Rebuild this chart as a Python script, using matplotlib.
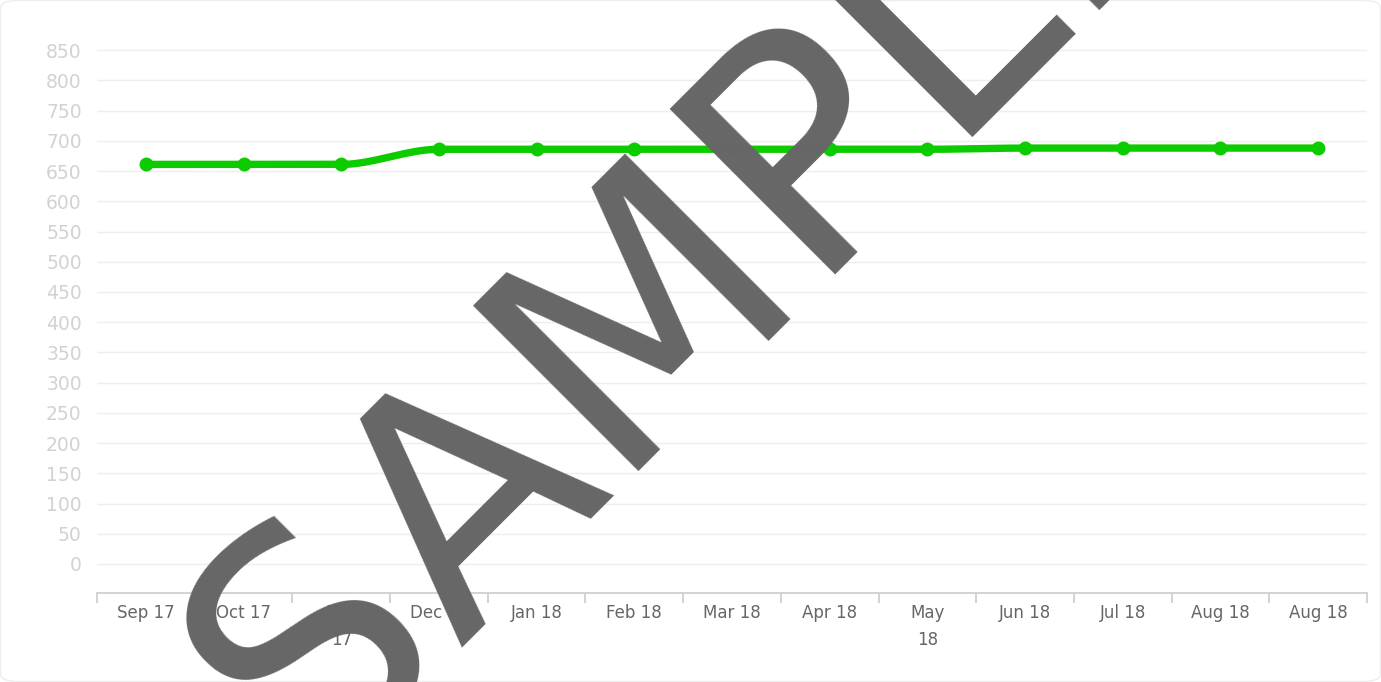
import numpy as np
import matplotlib
matplotlib.use("Agg")
import matplotlib.pyplot as plt
from matplotlib.patches import FancyBboxPatch

# month labels (two of them wrap onto a second line in the original)
months = ["Sep 17", "Oct 17", "Nov\n17", "Dec 17", "Jan 18", "Feb 18", "Mar 18",
          "Apr 18", "May\n18", "Jun 18", "Jul 18", "Aug 18", "Aug 18"]
values = [661, 661, 661, 686, 686, 686, 686, 686, 686, 688, 688, 688, 688]
yticks = list(range(0, 851, 50))


def monotone_curve(x, y, n=20):
    # Fritsch-Carlson monotone cubic, only used to draw the smooth line
    x = np.asarray(x, float)
    y = np.asarray(y, float)
    h = np.diff(x)
    d = np.diff(y) / h
    m = np.zeros_like(y)
    m[0], m[-1] = d[0], d[-1]
    for i in range(1, len(y) - 1):
        if d[i - 1] * d[i] <= 0:
            m[i] = 0
        else:
            m[i] = 2 / (1 / d[i - 1] + 1 / d[i])
    xs, ys = [], []
    for i in range(len(h)):
        t = np.linspace(0, 1, n, endpoint=False)
        h00 = 2*t**3 - 3*t**2 + 1
        h10 = t**3 - 2*t**2 + t
        h01 = -2*t**3 + 3*t**2
        h11 = t**3 - t**2
        xs.append(x[i] + t*h[i])
        ys.append(h00*y[i] + h10*h[i]*m[i] + h01*y[i+1] + h11*h[i]*m[i+1])
    xs.append([x[-1]])
    ys.append([y[-1]])
    return np.concatenate(xs), np.concatenate(ys)


W, H = 1381, 682
fig = plt.figure(figsize=(W/100, H/100), dpi=100)

# faint rounded card border
card = FancyBboxPatch((0.5/W, 0.5/H), 1 - 1/W, 1 - 1/H, transform=fig.transFigure,
                      boxstyle="round,pad=0,rounding_size=0.012",
                      fc="none", ec="#eeeeee", lw=1)
fig.patches.append(card)

ax = fig.add_axes([97/W, 89/H, 1270/W, 0.8137])

x = np.arange(len(months))
cx, cy = monotone_curve(x, values)
green = "#0ccc00"
ax.plot(cx, cy, color=green, lw=5.3, solid_capstyle="round", zorder=3)
ax.plot(x, values, "o", color=green, ms=9, zorder=4)

ax.set_xlim(-0.5, len(months) - 0.5)
ax.set_ylim(-48, 870)
ax.set_yticks(yticks)
ax.set_yticklabels([str(v) for v in yticks])
ax.grid(axis="y", color="#eeeeee", lw=1)
ax.set_axisbelow(True)
ax.tick_params(axis="y", length=0, pad=11, labelsize=13.5, labelcolor="#d2d2d2")

ax.set_xticks(x)
ax.set_xticklabels(months, color="#666666", fontsize=12, linespacing=1.6)
ax.tick_params(axis="x", which="major", length=0, pad=8)
ax.set_xticks(np.arange(len(months) + 1) - 0.5, minor=True)
ax.tick_params(axis="x", which="minor", length=7, color="#cccccc", width=1.2)

for s in ["top", "left", "right"]:
    ax.spines[s].set_visible(False)
ax.spines["bottom"].set_color("#cccccc")
ax.spines["bottom"].set_linewidth(1.2)

# watermark, baseline origin placed below the figure
fig.text(306/W, -100/H, "SAMPLE", fontsize=232, color="#666666", rotation=45,
         rotation_mode="anchor", ha="left", va="baseline", zorder=10)

fig.savefig("out.png", dpi=100, facecolor="white")
